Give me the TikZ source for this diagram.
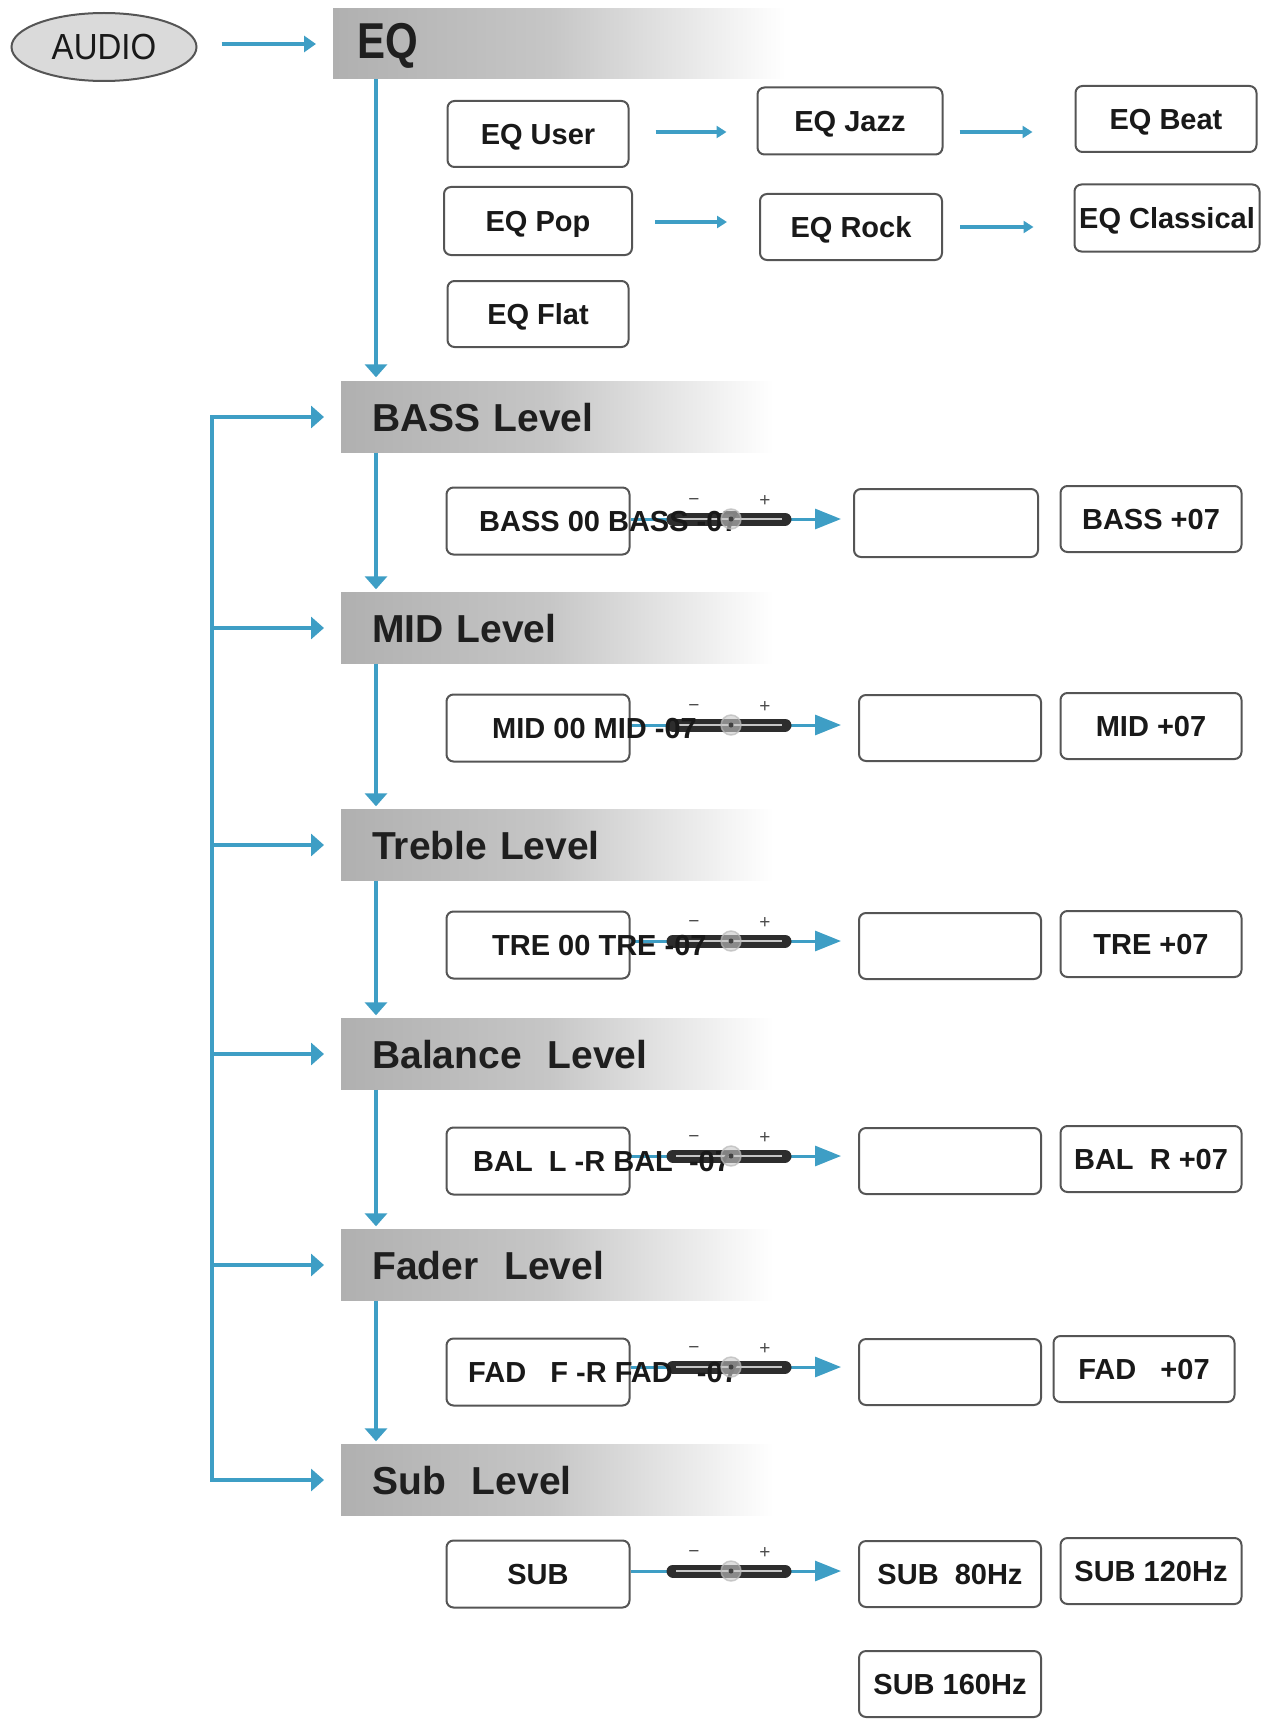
\documentclass[tikz,border=0pt]{standalone}
\usepackage{fontspec}
\setmainfont{Liberation Sans}
\usetikzlibrary{arrows.meta,shapes.geometric,calc}
\definecolor{cblue}{RGB}{62,158,197}
\definecolor{boxgray}{RGB}{85,85,85}
\definecolor{ellfill}{RGB}{218,218,218}
\definecolor{bandA}{RGB}{176,176,176}
\definecolor{bandB}{RGB}{198,198,198}
\definecolor{sliderdark}{RGB}{45,45,45}
\definecolor{knobfill}{RGB}{200,200,200}
\pgfdeclarehorizontalshading{bandshade}{100bp}{color(0bp)=(bandA); color(25bp)=(bandA); color(48bp)=(bandB); color(73bp)=(white); color(100bp)=(white)}
\newcommand\sliderbar[1]{%
  \draw[line width=13pt,line cap=round,sliderdark] ([xshift=-58pt]#1) -- ([xshift=54pt]#1);
  \draw[line width=2pt,gray!45] ([xshift=-55pt]#1) -- ([xshift=51pt]#1);
  \node[pm] at ([shift={(-37pt,17pt)}]#1) {−};
  \node[pm] at ([shift={(34pt,18pt)}]#1) {+};
}
\newcommand\sliderknob[1]{%
  \fill[knobfill,opacity=0.6] (#1) circle (10pt);
  \draw[gray!55,line width=1.5pt,opacity=0.7] (#1) circle (10pt);
  \fill[black!75] (#1) circle (2.5pt);
}
\begin{document}
\begin{tikzpicture}[x=1pt,y=-1pt,
  box/.style={draw=boxgray,line width=2pt,rounded corners=7pt,fill=white,
    font=\fontsize{29}{32}\selectfont\bfseries,text=black!90,
    text height=20.8pt,text depth=0pt,inner sep=0pt,
    minimum width=181pt,minimum height=66pt},
  txt/.style={font=\fontsize{29}{32}\selectfont\bfseries,text=black!90,
    text height=20.8pt,text depth=0pt,inner sep=0pt,anchor=west},
  band/.style={shade,shading=bandshade,anchor=west,inner sep=0pt,
    minimum height=71pt,font=\fontsize{39}{42}\selectfont\bfseries,text=black!88,
    text height=28pt,text depth=0pt,align=left},
  bline/.style={draw=cblue,line width=4.5pt},
  arr/.style={bline,-{Triangle[length=13pt,width=22pt]}},
  sarr/.style={draw=cblue,line width=3pt,-{Triangle[length=26pt,width=20pt]}},
  earr/.style={draw=cblue,line width=3.5pt,-{Triangle[length=10pt,width=12pt]}},
  pm/.style={font=\fontsize{19}{20}\selectfont,text=black!70,inner sep=0pt}
]
\useasboundingbox (0,0) rectangle (1270,1723);

% AUDIO and EQ header
\node[ellipse,draw=boxgray,fill=ellfill,line width=2pt,minimum width=185pt,
  minimum height=68pt,inner sep=0pt,font=\fontsize{33}{36}\selectfont,text=black!90] (audio) at (104,47) {\scalebox{1}[1.1]{AUDIO}};
\node[band,minimum width=447pt,minimum height=70pt,text width=423pt,inner xsep=24pt,
  font=\fontsize{42}{44}\selectfont\bfseries,text height=30pt] (eq) at (333,44) {\scalebox{1}[1.2]{EQ}};
\draw[earr,line width=4pt,-{Triangle[length=12pt,width=16pt]},shorten <=24pt,shorten >=17pt] (audio.east |- eq.west) -- (eq.west);

% Level bands
\node[band,minimum width=450pt,text width=388pt,inner xsep=31pt] (bass) at (341,417) {BASS Level};
\node[band,minimum width=450pt,text width=388pt,inner xsep=31pt] (mid) at (341,628) {MID Level};
\node[band,minimum width=450pt,text width=388pt,inner xsep=31pt] (tre) at (341,845) {Treble Level};
\node[band,minimum width=450pt,text width=388pt,inner xsep=31pt] (bal) at (341,1054) {Balance\ \ Level};
\node[band,minimum width=450pt,text width=388pt,inner xsep=31pt] (fad) at (341,1265) {Fader\ \ Level};
\node[band,minimum width=450pt,text width=388pt,inner xsep=31pt] (sub) at (341,1480) {Sub\ \ Level};

% main vertical chain
\coordinate (mainx) at (376,0);
\draw[arr,shorten >=4pt] (eq.south -| mainx) -- (bass.north -| mainx);
\draw[arr,shorten >=3pt] (bass.south -| mainx) -- (mid.north -| mainx);
\draw[arr,shorten >=3pt] (mid.south -| mainx) -- (tre.north -| mainx);
\draw[arr,shorten >=3pt] (tre.south -| mainx) -- (bal.north -| mainx);
\draw[arr,shorten >=3pt] (bal.south -| mainx) -- (fad.north -| mainx);
\draw[arr,shorten >=3pt] (fad.south -| mainx) -- (sub.north -| mainx);

% left return loop
\coordinate (loopx) at (212,0);
\draw[bline,{Triangle[length=13pt,width=22pt]}-{Triangle[length=13pt,width=22pt]},shorten <=17pt,shorten >=17pt]
  (bass.west) -- (bass.west -| loopx) -- (sub.west -| loopx) -- (sub.west);
\foreach \b in {mid,tre,bal,fad}{
  \draw[arr,shorten >=17pt] (\b.west -| loopx) -- (\b.west);
}

% EQ presets
\node[box] (user) at (538,134) {EQ User};
\node[box,minimum width=188pt,minimum height=68pt] (pop) at (538,221) {EQ Pop};
\node[box] (flat) at (538,314) {EQ Flat};
\node[box,minimum width=185pt,minimum height=67pt] (jazz) at (850,121) {EQ Jazz};
\node[box,minimum width=182pt] (rock) at (851,227) {EQ Rock};
\node[box] (beat) at (1166,119) {EQ Beat};
\node[box,minimum width=185pt,minimum height=67pt] (classical) at (1167,218) {EQ Classical};
\draw[earr] ([xshift=26pt]user.east |- 0,132) -- ([xshift=-30pt]jazz.west |- 0,132);
\draw[earr] ([xshift=22pt]pop.east |- 0,222) -- ([xshift=-32pt]rock.west |- 0,222);
\draw[earr] ([xshift=16pt]jazz.east |- 0,132) -- ([xshift=-42pt]beat.west |- 0,132);
\draw[earr] ([xshift=17pt]rock.east |- 0,227) -- ([xshift=-40pt]classical.west |- 0,227);

% ---- rows ----
% BASS
\node[box,minimum width=183pt,minimum height=67pt] (lbass) at (538,521) {};
\node[box,minimum width=184pt,minimum height=68pt] (mbass) at (946,523) {};
\node[box] (rbass) at (1151,519) {BASS +07};
\coordinate (sbass) at (731,519);
\draw[sarr,shorten >=12pt] (lbass.east |- sbass) -- (mbass.west |- sbass);
\sliderbar{sbass}
\node[txt] (tbass) at (479,521) {BASS 00 BASS -07};
\sliderknob{sbass}

% MID
\node[box,minimum width=183pt,minimum height=67pt] (lmid) at (538,728) {};
\node[box,minimum width=182pt] (mmid) at (950,728) {};
\node[box] (rmid) at (1151,726) {MID +07};
\coordinate (smid) at (731,725);
\draw[sarr,shorten >=17pt] (lmid.east |- smid) -- (mmid.west |- smid);
\sliderbar{smid}
\node[txt] (tmid) at (492,728) {MID 00 MID -07};
\sliderknob{smid}

% TRE
\node[box,minimum width=183pt,minimum height=67pt] (ltre) at (538,945) {};
\node[box,minimum width=182pt] (mtre) at (950,946) {};
\node[box] (rtre) at (1151,944) {TRE +07};
\coordinate (stre) at (731,941);
\draw[sarr,shorten >=17pt] (ltre.east |- stre) -- (mtre.west |- stre);
\sliderbar{stre}
\node[txt] (ttre) at (492,945) {TRE 00 TRE -07};
\sliderknob{stre}

% BAL
\node[box,minimum width=183pt,minimum height=67pt] (lbal) at (538,1161) {};
\node[box,minimum width=182pt] (mbal) at (950,1161) {};
\node[box] (rbal) at (1151,1159) {BAL\ \ R +07};
\coordinate (sbal) at (731,1156);
\draw[sarr,shorten >=17pt] (lbal.east |- sbal) -- (mbal.west |- sbal);
\sliderbar{sbal}
\node[txt] (tbal) at (473,1161) {BAL\ \ L -R BAL\ \ -07};
\sliderknob{sbal}

% FAD
\node[box,minimum width=183pt,minimum height=67pt] (lfad) at (538,1372) {};
\node[box,minimum width=182pt] (mfad) at (950,1372) {};
\node[box] (rfad) at (1144,1369) {FAD\ \ \ +07};
\coordinate (sfad) at (731,1367);
\draw[sarr,shorten >=17pt] (lfad.east |- sfad) -- (mfad.west |- sfad);
\sliderbar{sfad}
\node[txt] (tfad) at (468,1372) {FAD\ \ \ F -R FAD\ \ \ -07};
\sliderknob{sfad}

% SUB
\node[box,minimum width=183pt,minimum height=67pt] (lsub) at (538,1574) {SUB};
\node[box,minimum width=182pt] (msub) at (950,1574) {SUB\ \ 80Hz};
\node[box] (rsub) at (1151,1571) {SUB 120Hz};
\node[box,minimum width=182pt] (ssub) at (950,1684) {SUB 160Hz};
\coordinate (ssl) at (731,1571);
\draw[sarr,shorten >=17pt] (lsub.east |- ssl) -- (msub.west |- ssl);
\sliderbar{ssl}
\sliderknob{ssl}
\end{tikzpicture}
\end{document}
